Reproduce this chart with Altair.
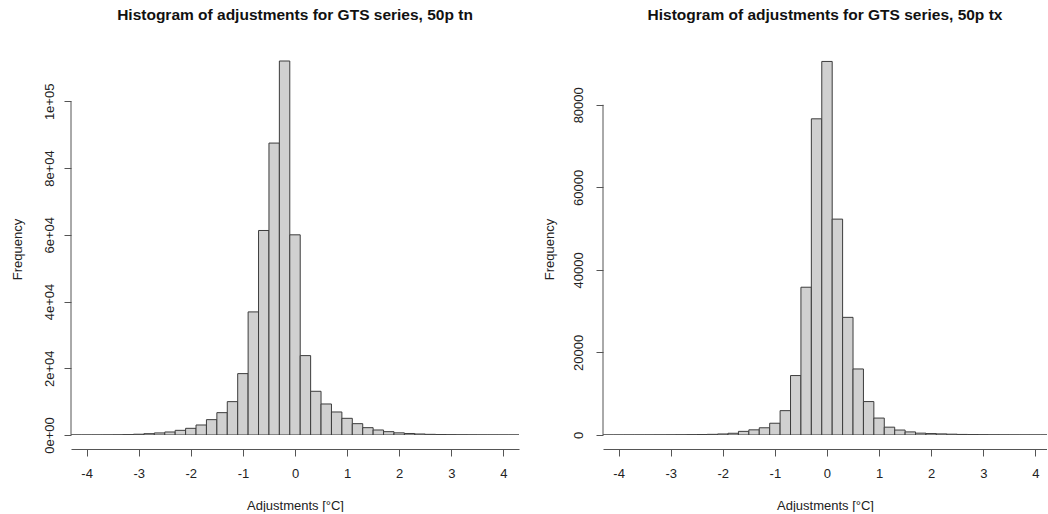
import altair as alt
import pandas as pd

# Histogram bins: lower edges, width 0.2 degC
bin_lo = [-4.3, -4.1, -3.9, -3.7, -3.5, -3.3, -3.1, -2.9, -2.7, -2.5, -2.3,
          -2.1, -1.9, -1.7, -1.5, -1.3, -1.1, -0.9, -0.7, -0.5, -0.3, -0.1,
          0.1, 0.3, 0.5, 0.7, 0.9, 1.1, 1.3, 1.5, 1.7, 1.9, 2.1, 2.3, 2.5,
          2.7, 2.9, 3.1, 3.3, 3.5, 3.7, 3.9, 4.1]
bin_width = 0.2

# Frequencies, minimum temperature (tn)
counts_tn = [5, 8, 12, 25, 50, 110, 230, 400, 620, 900, 1400,
             2000, 3000, 4600, 6700, 10000, 18400, 36900, 61300, 87500, 112100, 60000,
             23800, 13100, 9300, 6900, 5000, 3400, 2200, 1500, 1000, 650, 450, 300,
             200, 130, 90, 60, 40, 25, 15, 10, 5]

# Frequencies, maximum temperature (tx)
counts_tx = [3, 5, 8, 12, 18, 25, 35, 50, 80, 110, 160,
             250, 420, 880, 1250, 1750, 2850, 5900, 14400, 35800, 76600, 90500,
             52300, 28500, 16000, 8100, 4100, 1900, 1200, 750, 450, 350, 270, 200,
             140, 100, 70, 45, 30, 20, 12, 8, 5]

x_ticks = [-4, -3, -2, -1, 0, 1, 2, 3, 4]
y_ticks_tn = [0, 20000, 40000, 60000, 80000, 100000]
y_labels_tn = ["0e+00", "2e+04", "4e+04", "6e+04", "8e+04", "1e+05"]
y_ticks_tx = [0, 20000, 40000, 60000, 80000]

FONT = "Liberation Sans"
AXIS_COLOR = "#555555"
TEXT_COLOR = "#222222"


def label_expr(values, labels):
    parts = [f"datum.value == {v} ? '{l}'" for v, l in zip(values, labels)]
    return " : ".join(parts) + " : ''"


def panel(title, counts, x_max, width, y_max, y_ticks, y_label_expr, y_pad):
    df = pd.DataFrame({
        "lo": bin_lo,
        "hi": [round(b + bin_width, 1) for b in bin_lo],
        "count": counts,
    })
    axis_df = pd.DataFrame({"y0": [0], "y1": [y_ticks[-1]]})

    x_scale = alt.Scale(domain=[-4.3, x_max], nice=False, zero=False)
    y_scale = alt.Scale(domain=[0, y_max], nice=False)

    y_axis = alt.Axis(
        values=y_ticks, labelExpr=y_label_expr, title="Frequency",
        domain=False, grid=False, tickSize=7, tickColor=AXIS_COLOR,
        labelAngle=270, labelAlign="center", labelBaseline="bottom",
        labelPadding=y_pad, labelFont=FONT, labelFontSize=13, labelColor=TEXT_COLOR,
        titleFont=FONT, titleFontSize=13, titleFontWeight="normal", titleColor=TEXT_COLOR,
        titleAngle=270, titleAlign="center", titleBaseline="middle",
        titleX=-54, titleY=194,
    )
    x_axis = alt.Axis(
        values=x_ticks, labelExpr="'' + datum.value", title="Adjustments [°C]",
        domain=True, domainColor=AXIS_COLOR, grid=False, offset=14,
        tickSize=7, tickColor=AXIS_COLOR, labelFlush=False,
        labelPadding=11, labelFont=FONT, labelFontSize=13, labelColor=TEXT_COLOR,
        titleFont=FONT, titleFontSize=13, titleFontWeight="normal", titleColor=TEXT_COLOR,
        titleBaseline="top", titleY=50,
    )

    bars = alt.Chart(df).mark_rect(
        fill="#D0D0D0", stroke="#3c3c3c", strokeWidth=1, clip=True
    ).encode(
        x=alt.X("lo:Q", scale=x_scale, axis=x_axis),
        x2="hi:Q",
        y=alt.Y("count:Q", scale=y_scale, axis=y_axis),
        y2=alt.Y2(datum=0),
    )

    y_line = alt.Chart(axis_df).mark_rule(color=AXIS_COLOR, strokeWidth=1).encode(
        x=alt.value(0),
        y=alt.Y("y0:Q", scale=y_scale, axis=y_axis),
        y2="y1:Q",
    )

    return alt.layer(bars, y_line).properties(
        width=width, height=380,
        title=alt.TitleParams(
            text=title, font=FONT, fontSize=15.5, fontWeight="bold",
            color="#111111", anchor="middle", offset=32,
        ),
    )


left = panel(
    "Histogram of adjustments for GTS series, 50p tn", counts_tn,
    4.3, 448, 113900, y_ticks_tn, label_expr(y_ticks_tn, y_labels_tn), 8,
)
right = panel(
    "Histogram of adjustments for GTS series, 50p tx", counts_tx,
    4.224, 444, 92060, y_ticks_tx, "'' + datum.value", 11,
)

chart = alt.hconcat(left, right, spacing=84, bounds="flush").properties(
    padding={"left": 11, "top": 7, "right": 0, "bottom": 0},
    background="white",
).configure_view(strokeWidth=0)

chart.save("out.html", embed_options={"renderer": "svg", "actions": False})
